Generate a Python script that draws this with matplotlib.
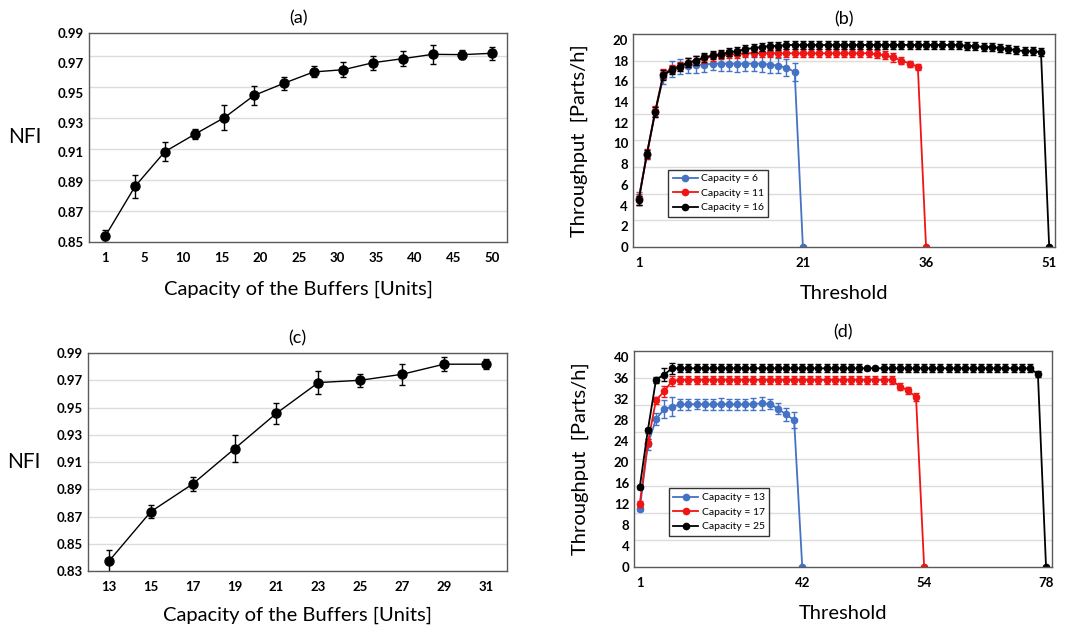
import numpy as np
import matplotlib.pyplot as plt

plt.rcParams['font.family'] = ['Lato', 'DejaVu Sans']

# ---- data ----
# (a) NFI vs buffer capacity
cap_ticks_a = [1, 5, 10, 15, 20, 25, 30, 35, 40, 45, 50]
nfi_a = [0.8540, 0.8873, 0.9105, 0.9221, 0.9333, 0.9482, 0.9563,
         0.9639, 0.9654, 0.9701, 0.9728, 0.9757, 0.9755, 0.9764]
err_a = [0.0041, 0.0075, 0.0064, 0.0034, 0.0086, 0.0065, 0.0045,
         0.0037, 0.0050, 0.0048, 0.0048, 0.0063, 0.0028, 0.0045]

# (c) NFI vs buffer capacity
cap_c = [13, 15, 17, 19, 21, 23, 25, 27, 29, 31]
nfi_c = [0.8373, 0.8736, 0.8939, 0.9198, 0.9458, 0.9683, 0.9700, 0.9744, 0.9818, 0.9818]
err_c = [0.0079, 0.0050, 0.0049, 0.0097, 0.0076, 0.0082, 0.0049, 0.0076, 0.0050, 0.0037]

# (b) throughput vs threshold
thr_ticks_b = [1, 21, 36, 51]
labels_b = ['Capacity = 6', 'Capacity = 11', 'Capacity = 16']
tp_b6 = [4.7, 8.9, 13.0, 16.4, 17.2, 17.4, 17.5, 17.6, 17.6, 17.7, 17.7, 17.7, 17.7,
         17.7, 17.7, 17.7, 17.6, 17.5, 17.3, 16.9, 0]
er_b6 = [0.6, 0.4, 0.5, 0.7, 0.8, 0.7, 0.7, 0.8, 0.7, 0.6, 0.7, 0.7, 0.8,
         0.7, 0.7, 0.8, 0.8, 0.7, 0.8, 0.9, 0]
tp_b11 = [4.6, 9.0, 13.1, 16.7, 17.2, 17.5, 17.8, 18.0, 18.2, 18.4, 18.5, 18.6, 18.6, 18.7,
          18.7, 18.7, 18.7, 18.7, 18.7, 18.7, 18.7, 18.7, 18.7, 18.7, 18.7, 18.7, 18.7, 18.7, 18.7,
          18.6, 18.5, 18.3, 18.0, 17.7, 17.4, 0]
er_b11 = [0.5, 0.5, 0.5, 0.5, 0.4, 0.4, 0.4, 0.4, 0.4, 0.4, 0.4, 0.4, 0.4, 0.4,
          0.4, 0.4, 0.4, 0.4, 0.4, 0.4, 0.4, 0.4, 0.4, 0.4, 0.4, 0.4, 0.4, 0.4, 0.4,
          0.4, 0.4, 0.4, 0.3, 0.3, 0.3, 0]
tp_b16 = [4.5, 9.0, 13.0, 16.6, 17.1, 17.4, 17.8, 18.0, 18.3, 18.5, 18.6, 18.8, 18.9, 19.1,
          19.2, 19.3, 19.4, 19.4,
          19.5, 19.5, 19.5, 19.5, 19.5, 19.5, 19.5, 19.5, 19.5, 19.5, 19.5,
          19.5, 19.5, 19.5, 19.5, 19.5, 19.5, 19.5, 19.5, 19.5, 19.5, 19.5,
          19.4, 19.4, 19.3, 19.3, 19.2, 19.1, 19.0, 18.9, 18.9, 18.8, 0]
er_b16 = [0.4, 0.4, 0.5, 0.5, 0.4, 0.4, 0.4, 0.4, 0.4, 0.4, 0.4, 0.4, 0.4, 0.4,
          0.4, 0.4, 0.4, 0.4,
          0.4, 0.4, 0.4, 0.4, 0.4, 0.4, 0.4, 0.4, 0.4, 0.4, 0.4,
          0.4, 0.4, 0.4, 0.4, 0.4, 0.4, 0.4, 0.4, 0.4, 0.4, 0.4,
          0.4, 0.4, 0.4, 0.4, 0.4, 0.4, 0.4, 0.4, 0.4, 0.4, 0]

# (d) throughput vs threshold
thr_ticks_d = [1, 42, 54, 78]
labels_d = ['Capacity = 13', 'Capacity = 17', 'Capacity = 25']
tp_d13 = [11.0, 23.4, 28.2, 30.1, 30.6, 31.0, 31.0, 31.1, 31.0, 31.0, 31.1, 31.0, 31.0,
          31.0, 31.1, 31.2, 31.1, 30.2, 29.1, 28.0, 0]
er_d13 = [0.4, 1.0, 1.2, 1.7, 1.8, 1.0, 1.1, 1.0, 1.1, 1.0, 1.2, 1.0, 1.0,
          1.0, 1.1, 1.3, 1.0, 1.0, 1.3, 1.5, 0]
tp_d17 = [12.0, 23.7, 31.8, 33.5, 35.5,
          35.7, 35.7, 35.7, 35.7, 35.7, 35.7, 35.7, 35.7, 35.7, 35.7, 35.7, 35.7, 35.7, 35.7,
          35.7, 35.7, 35.7, 35.7, 35.7, 35.7, 35.7, 35.7, 35.7, 35.7, 35.7, 35.7, 35.7,
          34.4, 33.7, 32.4, 0]
er_d17 = [0.5, 0.7, 0.7, 1.0, 0.9,
          0.7, 0.7, 0.7, 0.7, 0.7, 0.7, 0.7, 0.7, 0.7, 0.7, 0.7, 0.7, 0.7, 0.7,
          0.7, 0.7, 0.7, 0.7, 0.7, 0.7, 0.7, 0.7, 0.7, 0.7, 0.7, 0.7, 0.7,
          0.7, 0.7, 0.8, 0]
tp_d25 = [15.2, 26.1, 35.7, 36.7, 37.9,
          37.9, 37.9, 37.9, 37.9, 37.9, 37.9, 37.9, 37.9, 37.9, 37.9, 37.9, 37.9, 37.9, 37.9,
          37.9, 37.9, 37.9, 37.9, 37.9, 37.9, 37.9, 37.9, 37.9, 37.9, 37.9, 37.9, 37.9,
          37.9, 37.9, 37.9, 37.9, 37.9, 37.9, 37.9, 37.9, 37.9, 37.9, 37.9, 37.9, 37.9,
          37.9, 37.9, 37.9, 37.9, 36.8, 0]
er_d25 = [0.4, 0.5, 0.6, 1.2, 1.1,
          0.8, 0.8, 0.8, 0.8, 0.8, 0.8, 0.8, 0.8, 0.8, 0.8, 0.8, 0.8, 0.8, 0.8,
          0.8, 0.8, 0.8, 0.8, 0.8, 0.8, 0.8, 0.8, 0.8, 0.3, 0.3, 0.8, 0.8,
          0.8, 0.8, 0.8, 0.8, 0.8, 0.8, 0.8, 0.8, 0.8, 0.8, 0.8, 0.8, 0.8,
          0.8, 0.8, 0.8, 0.8, 0.6, 0]

colors = ['#4472C4', '#F01414', 'black']

fig = plt.figure(figsize=(10.71, 6.33), dpi=100)
ax_a = fig.add_axes([0.0831, 0.6177, 0.3903, 0.3302])
ax_b = fig.add_axes([0.5910, 0.6098, 0.3940, 0.3365])
ax_c = fig.add_axes([0.0822, 0.0979, 0.3910, 0.3444])
ax_d = fig.add_axes([0.5920, 0.1043, 0.3900, 0.3412])


def style(ax):
    for s in ax.spines.values():
        s.set_color('#5a5a5a')
        s.set_linewidth(1.0)
    ax.tick_params(which='both', length=0, labelsize=9.5)
    ax.tick_params(axis='x', pad=7)
    ax.set_axisbelow(True)
    for lab in ax.get_xticklabels() + ax.get_yticklabels():
        lab.set_fontweight('bold')


# ---- (a) ----
xa = np.arange(len(nfi_a))
ax_a.errorbar(xa, nfi_a, yerr=err_a, fmt='-o', color='black', ms=6.5, lw=1,
              capsize=2, elinewidth=1, capthick=1)
ax_a.set_xticks(np.linspace(0, len(nfi_a) - 1, len(cap_ticks_a)))
ax_a.set_xticklabels([str(v) for v in cap_ticks_a])
ax_a.set_xlim(-0.55, len(nfi_a) - 0.5)
ax_a.set_ylim(0.85, 0.99)
ax_a.set_yticks(np.arange(0.85, 0.995, 0.02))
ax_a.set_yticklabels(['%.2f' % v for v in np.arange(0.85, 0.995, 0.02)])
ax_a.set_yticks(0.85 + 0.0208 * np.arange(1, 7), minor=True)
ax_a.grid(which='minor', axis='y', color='#dcdcdc', lw=1)
ax_a.set_title('(a)', fontsize=13, pad=7)
ax_a.set_ylabel('NFI', fontsize=15, rotation=0, ha='center', va='center')
ax_a.yaxis.set_label_coords(-0.153, 0.5)
ax_a.set_xlabel('Capacity of the Buffers [Units]', fontsize=14.5, labelpad=12)
style(ax_a)

# ---- (c) ----
ax_c.errorbar(cap_c, nfi_c, yerr=err_c, fmt='-o', color='black', ms=6.5, lw=1,
              capsize=2, elinewidth=1, capthick=1)
ax_c.set_xticks(cap_c)
ax_c.set_xlim(cap_c[0] - 1, cap_c[-1] + 1)
ax_c.set_ylim(0.83, 0.99)
yc = np.arange(0.83, 0.995, 0.02)
ax_c.set_yticks(yc)
ax_c.set_yticklabels(['%.2f' % v for v in yc])
ax_c.grid(axis='y', color='#dcdcdc', lw=1)
ax_c.set_title('(c)', fontsize=13, pad=7)
ax_c.set_ylabel('NFI', fontsize=15, rotation=0, ha='center', va='center')
ax_c.yaxis.set_label_coords(-0.153, 0.5)
ax_c.set_xlabel('Capacity of the Buffers [Units]', fontsize=14.5, labelpad=10)
style(ax_c)


def throughput(ax, series, errs, labels, tick_labels, top, step, legend_y):
    n = max(len(s) for s in series)
    for s, e, lab, col in zip(series, errs, labels, colors):
        x = np.arange(len(s))
        ax.errorbar(x, s, yerr=e, fmt='none', ecolor=col, elinewidth=1,
                    capsize=2, capthick=1)
        ax.plot(x, s, '-o', color=col, ms=4.5, lw=1.3, label=lab)
    ax.set_xticks([0] + [len(s) - 1 for s in series])
    ax.set_xticklabels([str(v) for v in tick_labels])
    ax.set_xlim(-0.7, n - 0.3)
    ax.set_ylim(0, top)
    ax.set_yticks(np.arange(0, top, step))
    ax.set_yticks(np.linspace(0, top, 9)[1:-1], minor=True)
    ax.grid(which='minor', axis='y', color='#dcdcdc', lw=1)
    ax.set_ylabel('Throughput  [Parts/h]', fontsize=14.5)
    ax.yaxis.set_label_coords(-0.107, 0.5)
    ax.set_xlabel('Threshold', fontsize=14.5, labelpad=12)
    leg = ax.legend(loc='lower left', bbox_to_anchor=(0.083, legend_y), fontsize=7.5,
                    fancybox=False, edgecolor='black', borderaxespad=0,
                    handlelength=2.4, labelspacing=0.5, borderpad=0.45,
                    handletextpad=0.3)
    leg.get_frame().set_linewidth(1.0)
    style(ax)


throughput(ax_b, [tp_b6, tp_b11, tp_b16], [er_b6, er_b11, er_b16], labels_b,
           thr_ticks_b, 20.56, 2, 0.14)
ax_b.set_title('(b)', fontsize=13, pad=7)
throughput(ax_d, [tp_d13, tp_d17, tp_d25], [er_d13, er_d17, er_d25], labels_d,
           thr_ticks_d, 41.2, 4, 0.143)
ax_d.set_title('(d)', fontsize=13, pad=10)

fig.savefig('out.png', dpi=100)
